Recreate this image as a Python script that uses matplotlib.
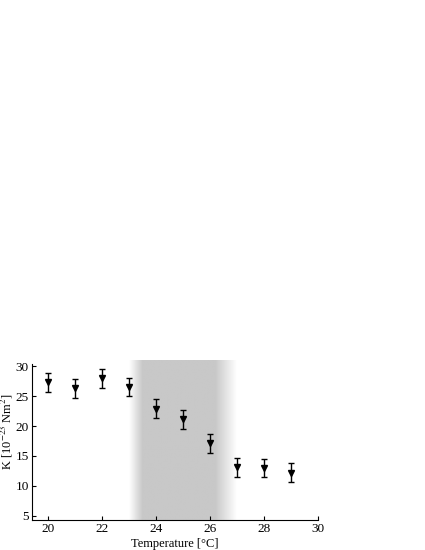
import numpy as np
import matplotlib
matplotlib.use('Agg')
import matplotlib.pyplot as plt
from matplotlib.colors import LinearSegmentedColormap

# data
temperature = [20, 21, 22, 23, 24, 25, 26, 27, 28, 29]
k_values = [27.3, 26.3, 28.0, 26.5, 22.9, 21.1, 17.1, 13.1, 13.0, 12.2]
k_errors = [1.55, 1.55, 1.6, 1.55, 1.55, 1.55, 1.55, 1.55, 1.55, 1.55]
shade_range = [23, 27]

x_ticks = [20, 22, 24, 26, 28, 30]
y_ticks = [5, 10, 15, 20, 25, 30]

plt.rcParams['font.family'] = ['Liberation Serif', 'DejaVu Serif']
plt.rcParams['mathtext.fontset'] = 'stix'

fig = plt.figure(figsize=(4.25, 5.5), dpi=100)
ax = fig.add_axes([0.0746, 0.0545, 0.6744, 0.2905])

# shaded band with soft edges
xs = np.linspace(shade_range[0], shade_range[1], 400)
fade_in = np.clip((xs - shade_range[0]) / 0.5, 0, 1)
fade_out = np.clip((shade_range[1] - xs) / 0.8, 0, 1)
alpha = np.minimum(fade_in, fade_out)
cmap = LinearSegmentedColormap.from_list('band', ['white', '#c8c8c8'])
ax.imshow(alpha[np.newaxis, :], cmap=cmap, vmin=0, vmax=1, aspect='auto',
          extent=[shade_range[0], shade_range[1], 4.3, 31], zorder=0,
          interpolation='bilinear')

ax.errorbar(temperature, k_values, yerr=k_errors, fmt='v', color='black',
            markersize=5, elinewidth=1.0, capsize=2.2, capthick=1.0, zorder=3)

ax.set_xlim(19.38, 30)
ax.set_ylim(4.3, 31)
ax.spines['top'].set_visible(False)
ax.spines['right'].set_visible(False)
ax.spines['bottom'].set_bounds(19.38, 30)
ax.spines['left'].set_bounds(4.3, 30.4)
ax.set_xticks(x_ticks)
ax.set_yticks(y_ticks)
ax.tick_params(direction='in', length=3, width=0.8, labelsize=9.5, pad=2)

ax.set_xlabel('Temperature [°C]', fontsize=9, labelpad=2)
ax.set_ylabel('K [10$^{-23}$ Nm$^{2}$]', fontsize=9)
ax.yaxis.set_label_coords(-0.058, 0.55)

fig.savefig('out.png', dpi=100)
